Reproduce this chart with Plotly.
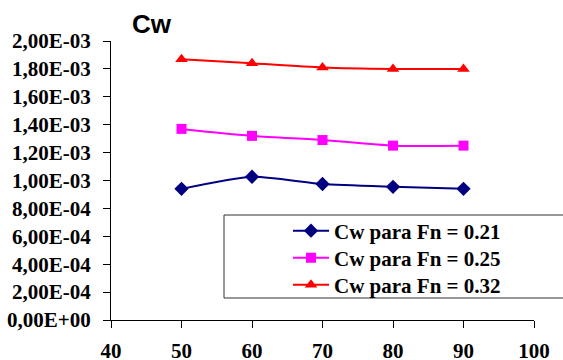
import plotly.graph_objects as go

# Cw values by x position for three Froude numbers
x_vals = [50, 60, 70, 80, 90]
cw_021 = [0.94e-3, 1.027e-3, 0.975e-3, 0.955e-3, 0.94e-3]
cw_025 = [1.37e-3, 1.32e-3, 1.29e-3, 1.25e-3, 1.25e-3]
cw_032 = [1.87e-3, 1.84e-3, 1.81e-3, 1.80e-3, 1.80e-3]

series_names = ["Cw para Fn = 0.21", "Cw para Fn = 0.25", "Cw para Fn = 0.32"]

y_tickvals = [0, 2e-4, 4e-4, 6e-4, 8e-4, 1e-3, 1.2e-3, 1.4e-3, 1.6e-3, 1.8e-3, 2e-3]
y_ticktext = ["0,00E+00", "2,00E-04", "4,00E-04", "6,00E-04", "8,00E-04",
              "1,00E-03", "1,20E-03", "1,40E-03", "1,60E-03", "1,80E-03", "2,00E-03"]
x_tickvals = [40, 50, 60, 70, 80, 90, 100]

SERIF = "Liberation Serif"


def bold(s):
    return f"<b>{s}</b>"


styles = [
    dict(color="#000080", symbol="diamond", size=11),
    dict(color="#FF00FF", symbol="square", size=10),
    dict(color="#FF0000", symbol="triangle-up", size=11),
]

L, R, T, B = 111, 29, 41, 40
W, H = 563, 360
pw, ph = W - L - R, H - T - B


def px_x(p):
    return (p - L) / pw


def px_y(p):
    return (H - B - p) / ph


legend_ids = ["legend", "legend2", "legend3"]
row_centers = [231, 258, 285]

fig = go.Figure()
for name, ys, st, lid in zip(series_names, [cw_021, cw_025, cw_032], styles, legend_ids):
    fig.add_trace(go.Scatter(
        x=x_vals, y=ys, name=bold(name), mode="lines+markers", legend=lid,
        line=dict(color=st["color"], width=2, shape="spline", smoothing=0.6),
        marker=dict(color=st["color"], symbol=st["symbol"], size=st["size"]),
    ))

# legend frame
fig.add_shape(type="rect", xref="paper", yref="paper",
              x0=px_x(224), x1=px_x(566), y0=px_y(298), y1=px_y(215),
              line=dict(color="#333333", width=1), fillcolor="white", layer="below")

legend_style = dict(
    xanchor="left", yanchor="middle", x=px_x(288),
    bgcolor="rgba(0,0,0,0)", borderwidth=0, itemwidth=36,
    font=dict(family=SERIF, size=21, color="black"),
)
for lid, yc in zip(legend_ids, row_centers):
    fig.update_layout({lid: dict(legend_style, y=px_y(yc))})

fig.update_layout(
    width=W, height=H,
    margin=dict(l=L, r=R, t=T, b=B, autoexpand=False),
    paper_bgcolor="white", plot_bgcolor="white",
    showlegend=True,
    annotations=[dict(text="<b>Cw</b>", x=px_x(152), y=px_y(24),
                      xref="paper", yref="paper", xanchor="center", yanchor="middle",
                      showarrow=False,
                      font=dict(family="Liberation Sans", size=26, color="black"))],
    xaxis=dict(
        range=[40, 100], tickvals=x_tickvals, ticktext=[bold(v) for v in x_tickvals],
        showline=True, linecolor="black",
        linewidth=1, ticks="outside", ticklen=7, tickcolor="black",
        showgrid=False, zeroline=False, ticklabelstandoff=5, automargin=False,
        tickfont=dict(family=SERIF, size=21, color="black"),
    ),
    yaxis=dict(
        range=[0, 2e-3], tickvals=y_tickvals, ticktext=[bold(t) for t in y_ticktext],
        showline=True, linecolor="black", linewidth=1,
        ticks="outside", ticklen=7, tickcolor="black",
        showgrid=False, zeroline=False, ticklabelstandoff=8, automargin=False,
        tickfont=dict(family=SERIF, size=21, color="black"),
    ),
)

fig.write_html("out.html")
